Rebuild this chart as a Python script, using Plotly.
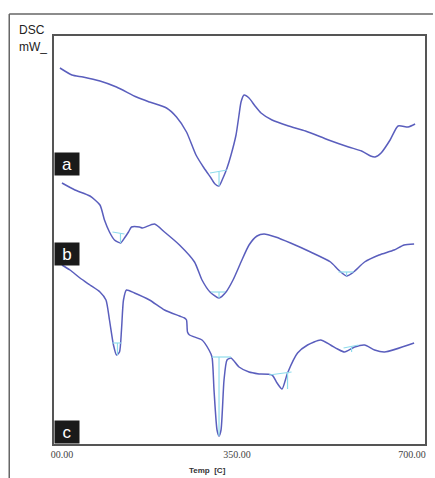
import plotly.graph_objects as go

# ---- data (temperature in C, DSC signal in arbitrary mW units, offset per curve) ----
temp_a = [-4, 20, 42, 76, 109, 149, 175, 209, 229, 249, 268, 284, 298, 306, 314, 322, 330, 338, 348, 354, 358, 364, 374, 386, 398, 420, 453, 487, 533, 573, 599, 617, 626, 638, 656, 672, 692, 706]
dsc_a  = [376, 369, 367, 363, 357, 347, 342, 336, 327, 312, 289, 276, 266, 260, 258, 266, 276, 289, 309, 329, 342, 349, 346, 338, 331, 324, 318, 313, 304, 297, 293, 288, 287, 291, 304, 318, 317, 320]

temp_b = [0, 26, 56, 76, 85, 95, 105, 117, 125, 133, 139, 155, 161, 185, 205, 235, 265, 280, 296, 314, 328, 342, 358, 374, 390, 404, 427, 457, 497, 537, 553, 569, 583, 605, 634, 664, 684, 704]
dsc_b  = [261, 254, 248, 239, 224, 212, 204, 201, 206, 212, 217, 217, 216, 220, 212, 199, 182, 164, 152, 146, 152, 164, 182, 199, 208, 210, 207, 201, 192, 182, 174, 168, 172, 182, 189, 194, 199, 200]

temp_c = [0, 16, 36, 56, 76, 88, 95, 103, 109, 115, 119, 123, 129, 145, 175, 205, 235, 245, 249, 251, 255, 280, 294, 300, 304, 310, 314, 318, 324, 330, 338, 354, 374, 394, 394, 420, 430, 440, 451, 471, 491, 517, 537, 551, 565, 585, 605, 625, 645, 704]
dsc_c  = [179, 174, 166, 159, 152, 144, 124, 99, 89, 92, 114, 144, 154, 151, 144, 134, 128, 126, 124, 112, 109, 104, 94, 87, 54, 14, 8, 14, 64, 84, 86, 77, 72, 70, 70, 69, 61, 55, 71, 91, 99, 104, 99, 95, 92, 97, 99, 94, 92, 101]

# peak integration marks: baseline (t1, v1, t2, v2) and peak (t, v)
peak_base = [
    (296, 271, 330, 274),   # a main
    (101, 212, 125, 210),   # b 1
    (298, 152, 326, 152),   # b 2
    (553, 172, 583, 172),   # b 3
    (101, 101, 119, 101),   # c 1
    (300, 87, 338, 87),     # c 2
    (414, 69, 459, 72),     # c 3
    (563, 96, 593, 99),     # c 4
]
peak_tip = [(314, 258), (117, 201), (314, 146), (569, 168), (111, 89), (314, 8), (451, 55), (579, 92)]

# ---- figure ----
line_col = "#5a5ebd"
cyan = "#8fdcec"
fig = go.Figure()
for t, v in [(temp_a, dsc_a), (temp_b, dsc_b), (temp_c, dsc_c)]:
    fig.add_trace(go.Scatter(x=t, y=v, mode="lines", line=dict(color=line_col, width=1.5, shape="spline", smoothing=0.6), hoverinfo="skip"))

for (t1, v1, t2, v2), (tp, vp) in zip(peak_base, peak_tip):
    vb = v1 + (v2 - v1) * (tp - t1) / (t2 - t1)
    fig.add_trace(go.Scatter(x=[t1, t2], y=[v1, v2], mode="lines", line=dict(color=cyan, width=1.2), hoverinfo="skip"))
    fig.add_trace(go.Scatter(x=[tp, tp], y=[vb, vp], mode="lines", line=dict(color=cyan, width=1.2), hoverinfo="skip"))

# ---- layout ----
W, H = 435, 478
L, R, T, B = 54, 8, 36, 34
pw, ph = W - L - R, H - T - B

def px(x):
    return (x - L) / pw

def py(y):
    return (H - B - y) / ph

fig.update_layout(
    width=W, height=H, margin=dict(l=L, r=R, t=T, b=B),
    paper_bgcolor="white", plot_bgcolor="white", showlegend=False,
    xaxis=dict(range=[-15.9, 725.8], tickvals=[0, 350, 700], ticktext=["00.00", "350.00", "700.00"],
               tickfont=dict(family="Liberation Serif", size=10, color="#444"), showgrid=False, zeroline=False,
               showline=True, linecolor="#555", linewidth=1.5, mirror=True, ticks=""),
    yaxis=dict(range=[0, 408], showticklabels=False, showgrid=False, zeroline=False,
               showline=True, linecolor="#555", linewidth=1.5, mirror=True, ticks=""),
    shapes=[
        dict(type="line", xref="paper", yref="paper", x0=px(9), x1=px(435), y0=py(14), y1=py(14), line=dict(color="#666", width=1.5)),
        dict(type="line", xref="paper", yref="paper", x0=px(9), x1=px(9), y0=py(14), y1=py(478), line=dict(color="#666", width=1.5)),
    ],
)

annots = [
    dict(text="DSC", x=px(17), y=py(30), xanchor="left", yanchor="middle", font=dict(family="Liberation Sans", size=12, color="#222")),
    dict(text="mW_", x=px(17), y=py(47), xanchor="left", yanchor="middle", font=dict(family="Liberation Sans", size=12, color="#222")),
    dict(text="<b>Temp  [C]</b>", x=px(208), y=py(470), xanchor="center", yanchor="middle", font=dict(family="Liberation Sans", size=8, color="#333")),
]
for lab, cy in [("a", 164), ("b", 254), ("c", 432)]:
    annots.append(dict(text=lab, x=px(54), y=py(cy), xanchor="left", yanchor="middle", width=24, height=22,
                       bgcolor="#1a1a1a", font=dict(family="Liberation Sans", size=17, color="white"), borderpad=0))
for a in annots:
    a.update(xref="paper", yref="paper", showarrow=False)
fig.update_layout(annotations=annots)

fig.write_html("out.html")
